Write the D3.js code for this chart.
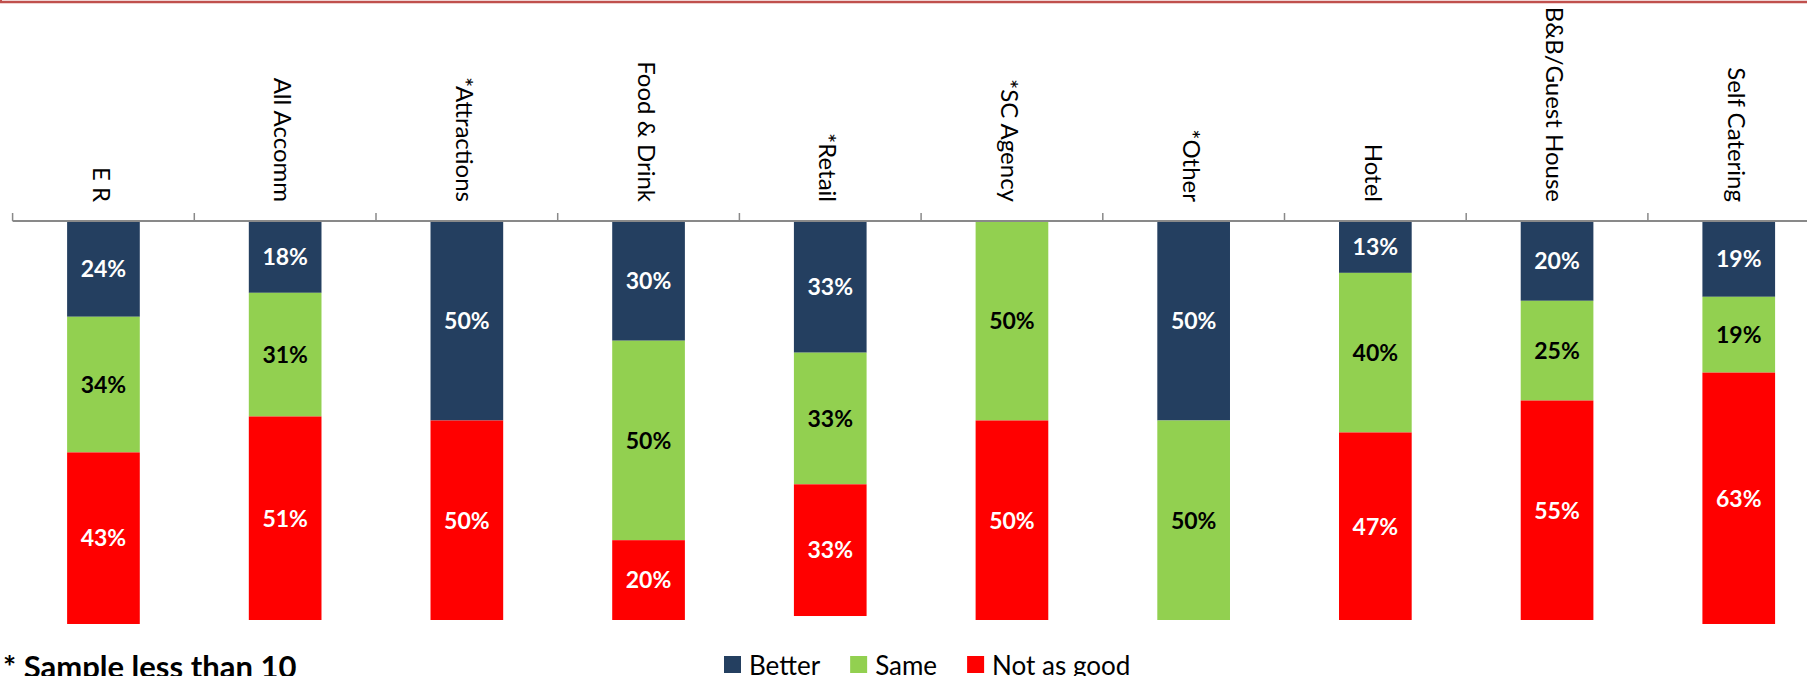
<!DOCTYPE html>
<html>
<head>
<meta charset="utf-8">
<script src="https://cdn.jsdelivr.net/npm/d3@7"></script>
<style>
  html, body { margin: 0; padding: 0; background: #fff; }
  svg { display: block; }
  text { font-family: Lato, "Open Sans", sans-serif; }
</style>
</head>
<body>
<svg id="chart" width="1807" height="676"></svg>
<script>
// Business type categories (asterisk = sample below 10)
const categories = ["E R", "All Accomm", "*Attractions", "Food & Drink", "*Retail",
                    "*SC Agency", "*Other", "Hotel", "B&B/Guest House", "Self Catering"];
// Share of responses (%) per category
const better    = [24, 18, 50, 30, 33, 0, 50, 13, 20, 19];
const same      = [34, 31, 0, 50, 33, 50, 50, 40, 25, 19];
const notAsGood = [43, 51, 50, 20, 33, 50, 0, 47, 55, 63];

const seriesNames  = ["Better", "Same", "Not as good"];
const seriesColors = ["#243F60", "#92D050", "#FF0000"];
const labelColors  = ["#FFFFFF", "#000000", "#FFFFFF"];
const footnote = "* Sample less than 10";

const svg = d3.select("#chart");
const W = 1807, H = 676;

// frame edge along the top
svg.append("line")
  .attr("x1", 0).attr("x2", W).attr("y1", 2).attr("y2", 2)
  .attr("stroke", "#C0504D").attr("stroke-width", 2.5);
svg.append("line")
  .attr("x1", 1).attr("x2", 1).attr("y1", 0).attr("y2", 3)
  .attr("stroke", "#C0504D").attr("stroke-width", 2);

const axisY = 221, axisBottom = 620;
const x0 = 12.6, step = 181.7;

const x = d3.scaleBand()
  .domain(categories)
  .range([x0, x0 + step * categories.length])
  .paddingInner(0.6)
  .paddingOuter(0.3);

const y = d3.scaleLinear().domain([0, 100]).range([axisY, axisBottom]);

// rows for stacking
const rows = categories.map((c, i) => ({
  category: c, "Better": better[i], "Same": same[i], "Not as good": notAsGood[i]
}));
const stack = d3.stack().keys(seriesNames)(rows);

const gBars = svg.append("g");
stack.forEach((layer, si) => {
  const g = gBars.append("g").attr("fill", seriesColors[si]);
  g.selectAll("rect")
    .data(layer.filter(d => d[1] - d[0] > 0))
    .join("rect")
    .attr("x", d => x(d.data.category))
    .attr("width", x.bandwidth())
    .attr("y", d => y(d[0]))
    .attr("height", d => y(d[1]) - y(d[0]));
});

// value labels
stack.forEach((layer, si) => {
  svg.append("g").selectAll("text")
    .data(layer.filter(d => d[1] - d[0] > 0))
    .join("text")
    .attr("x", d => x(d.data.category) + x.bandwidth() / 2)
    .attr("y", d => (y(d[0]) + y(d[1])) / 2)
    .attr("dy", "0.36em")
    .attr("text-anchor", "middle")
    .attr("font-weight", 700)
    .attr("font-size", 23)
    .attr("fill", labelColors[si])
    .text(d => (d[1] - d[0]) + "%");
});

// category axis along the top, ticks between categories
const axisG = svg.append("g");
axisG.append("line")
  .attr("x1", x0).attr("x2", W + 30)
  .attr("y1", axisY).attr("y2", axisY)
  .attr("stroke", "#898989").attr("stroke-width", 2);
const tickXs = d3.range(categories.length + 1).map(i => x0 + i * step);
axisG.selectAll("line.tick")
  .data(tickXs)
  .join("line")
  .attr("class", "tick")
  .attr("x1", d => d).attr("x2", d => d)
  .attr("y1", axisY).attr("y2", axisY - 8)
  .attr("stroke", "#898989").attr("stroke-width", 1.5);

axisG.selectAll("text.cat")
  .data(categories)
  .join("text")
  .attr("class", "cat")
  .attr("transform", d => `translate(${x(d) + x.bandwidth() / 2},${axisY - 19}) rotate(90)`)
  .attr("text-anchor", "end")
  .attr("dy", "0.45em")
  .attr("font-size", 24)
  .attr("fill", "#000")
  .text(d => d);

// legend
const legend = svg.append("g");
let lx = 724;
seriesNames.forEach((name, i) => {
  legend.append("rect")
    .attr("x", lx).attr("y", 656)
    .attr("width", 17).attr("height", 17)
    .attr("fill", seriesColors[i]);
  const t = legend.append("text")
    .attr("x", lx + 25).attr("y", 675)
    .attr("font-size", 26)
    .attr("fill", "#000")
    .text(name);
  lx = lx + 25 + t.node().getComputedTextLength() + 30;
});

// footnote
svg.append("text")
  .attr("x", 3).attr("y", 678)
  .attr("font-size", 31)
  .attr("font-weight", 700)
  .attr("fill", "#000")
  .text(footnote);
</script>
</body>
</html>
